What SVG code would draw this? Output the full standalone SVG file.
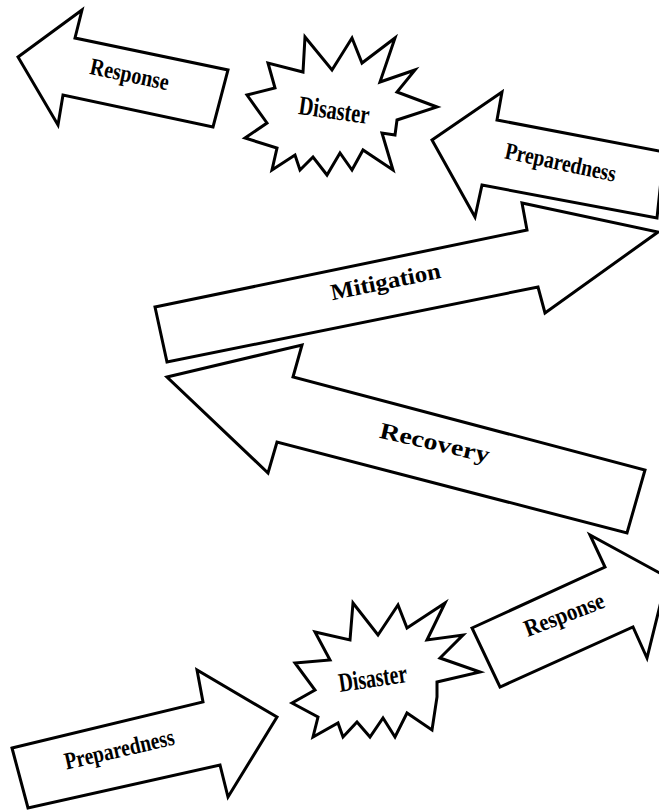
<svg xmlns="http://www.w3.org/2000/svg" width="659" height="811" viewBox="0 0 659 811">
<style>
.s{fill:#fff;stroke:#000;stroke-width:3;stroke-linejoin:miter;stroke-miterlimit:10}
.t{font-family:"Liberation Serif","Times New Roman",serif;font-weight:bold;font-size:24px;fill:#000;text-anchor:middle}
.w{font-size:23px}
.d{font-size:27px}
</style>
<rect width="659" height="811" fill="#fff"/>
<g id="response-top">
<polygon class="s" points="18,57 82,10 75,38 228,70 213,127 63,95 58,125"/>
<text class="t" transform="translate(128,82) rotate(12)" textLength="80" lengthAdjust="spacingAndGlyphs">Response</text>
</g>
<g id="disaster-top">
<polygon class="s" points="245,138 267,123 247,95 275,88 268,63 303,72 305,37 332,70 352,38 362,63 395,38 380,82 415,70 397,92 437,107 397,120 395,135 382,133 393,170 363,150 352,170 340,153 327,175 313,157 300,170 295,155 272,170 277,148"/>
<text class="t d" transform="translate(333,119) rotate(8)" textLength="71" lengthAdjust="spacingAndGlyphs">Disaster</text>
</g>
<g id="preparedness-top">
<polygon class="s" points="432,140 502,92 497,120 664,152 657,218 482,185 475,217"/>
<text class="t" transform="translate(559,170) rotate(12)" textLength="113" lengthAdjust="spacingAndGlyphs">Preparedness</text>
</g>
<g id="mitigation">
<polygon class="s" points="155,307 527,230 522,203 658,232 545,313 538,287 167,362"/>
<text class="t w" transform="translate(387,289) rotate(-11.5)" textLength="112" lengthAdjust="spacingAndGlyphs">Mitigation</text>
</g>
<g id="recovery">
<polygon class="s" points="167,377 302,345 293,377 645,470 627,533 277,442 268,473"/>
<text class="t w" transform="translate(433,450) rotate(13)" textLength="112" lengthAdjust="spacingAndGlyphs">Recovery</text>
</g>
<g id="response-bottom">
<polygon class="s" points="472,628 605,567 590,535 667,577 647,658 633,627 500,687"/>
<text class="t" transform="translate(567,622) rotate(-21)" textLength="84" lengthAdjust="spacingAndGlyphs">Response</text>
</g>
<g id="disaster-bottom">
<polygon class="s" points="292,703 315,690 295,663 330,660 315,632 350,640 353,603 378,635 398,605 407,628 445,603 427,640 463,635 440,658 480,672 437,682 437,697 432,730 407,713 395,737 383,718 370,737 357,722 343,737 338,723 313,737 318,717"/>
<text class="t d" transform="translate(374,687) rotate(-8.5)" textLength="69" lengthAdjust="spacingAndGlyphs">Disaster</text>
</g>
<g id="preparedness-bottom">
<polygon class="s" points="12,748 203,702 197,670 277,717 228,797 220,765 28,808"/>
<text class="t" transform="translate(121,757) rotate(-13)" textLength="112" lengthAdjust="spacingAndGlyphs">Preparedness</text>
</g>
<g id="connectors"></g>
</svg>
